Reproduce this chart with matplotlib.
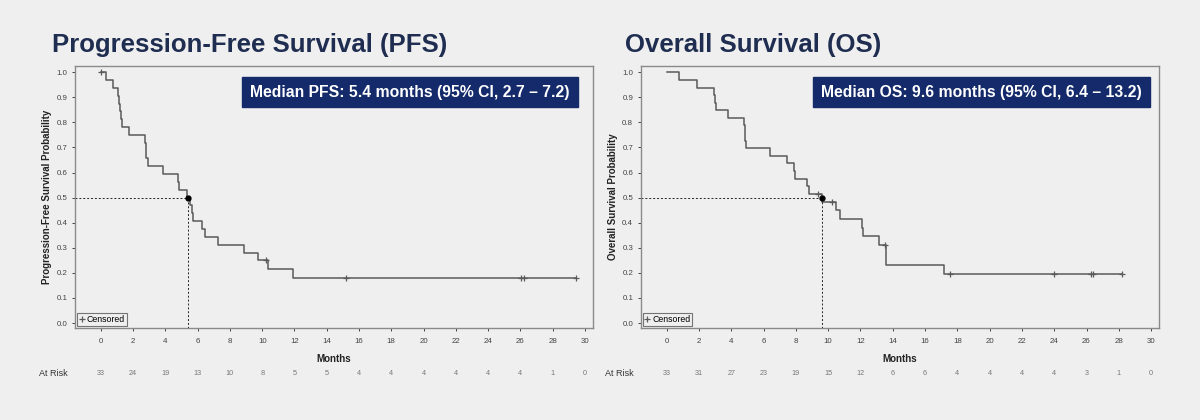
import numpy as np
import matplotlib.pyplot as plt

plt.rcParams['font.family'] = ['Liberation Sans', 'DejaVu Sans']

# PFS Kaplan-Meier steps (time in months, survival after the drop)
pfs_time = [0, 0.31, 0.77, 1.08, 1.15, 1.20, 1.27, 1.30, 1.76, 2.73, 2.77, 2.83, 2.90,
            3.83, 4.80, 4.87, 5.36, 5.52, 5.62, 5.73, 6.29, 6.43, 7.28, 8.89, 9.72,
            10.38, 11.89]
pfs_surv = [1.0, 0.969, 0.938, 0.906, 0.875, 0.844, 0.813, 0.781, 0.750, 0.719, 0.688,
            0.656, 0.625, 0.594, 0.563, 0.531, 0.500, 0.469, 0.438, 0.406, 0.375, 0.344,
            0.313, 0.281, 0.250, 0.214, 0.179]
pfs_censor = [0, 10.22, 15.2, 26.06, 26.2, 29.45]
pfs_end = 29.45
pfs_median = 5.4

# OS Kaplan-Meier steps
os_time = [0, 0.74, 1.85, 2.94, 3.00, 3.05, 3.83, 4.79, 4.83, 4.87, 4.90, 6.38, 7.47,
           7.88, 7.97, 8.72, 8.80, 9.63, 10.49, 10.74, 12.10, 12.18, 13.17, 13.58, 17.16]
os_surv = [1.0, 0.970, 0.939, 0.909, 0.879, 0.848, 0.818, 0.788, 0.758, 0.727, 0.697,
           0.667, 0.636, 0.606, 0.576, 0.545, 0.515, 0.483, 0.449, 0.415, 0.380, 0.346,
           0.311, 0.233, 0.194]
os_censor = [9.38, 10.23, 13.54, 17.53, 24.0, 26.3, 26.4, 28.2]
os_end = 28.2
os_median = 9.6

months = list(range(0, 31, 2))
pfs_risk = [33, 24, 19, 13, 10, 8, 5, 5, 4, 4, 4, 4, 4, 4, 1, 0]
os_risk = [33, 31, 27, 23, 19, 15, 12, 6, 6, 4, 4, 4, 4, 3, 1, 0]

bg = '#efefef'
navy = '#142a6a'
line_col = '#5a5a5a'


def km_panel(ax, t, s, cens, t_end, med, ylabel, box_text, box_x):
    tt = list(t) + [t_end]
    ss = list(s) + [s[-1]]
    ax.step(tt, ss, where='post', color=line_col, lw=1.1)
    idx = np.searchsorted(t, cens, side='right') - 1
    cy = np.array(s)[idx]
    ax.plot(cens, cy, ls='none', marker='+', ms=5, mew=0.9, color=line_col,
            label='Censored')
    ax.set_xlim(-1.6, 30.5)
    ax.set_ylim(-0.02, 1.025)
    # median guide lines
    ax.plot([-1.6, med], [0.5, 0.5], color='#222222', lw=0.7, ls=(0, (2, 2)))
    ax.plot([med, med], [0.5, -0.02], color='#222222', lw=0.7, ls=(0, (2, 2)))
    ax.plot([med], [0.5], 'o', color='black', ms=3.5)
    ax.set_facecolor(bg)
    for sp in ax.spines.values():
        sp.set_color('#8a8a8a')
        sp.set_linewidth(1.0)
    ax.set_xticks(months)
    ax.set_yticks(np.arange(0, 1.01, 0.1))
    ax.set_yticklabels(['%.1f' % v for v in np.arange(0, 1.01, 0.1)])
    ax.tick_params(axis='both', labelsize=5.7, colors='#444444', length=2.5,
                   width=0.7, direction='out', pad=3)
    ax.tick_params(axis='x', pad=5)
    ax.set_ylabel(ylabel, fontsize=7, fontweight='bold', color='#222222', labelpad=3)
    ax.set_xlabel('Months', fontsize=7, fontweight='bold', color='#222222', labelpad=6)
    leg = ax.legend(loc='lower left', fontsize=6.3, handlelength=0.6, handletextpad=0.3,
                    borderpad=0.2, borderaxespad=0.25, fancybox=False, frameon=True)
    leg.get_frame().set_edgecolor('#555555')
    leg.get_frame().set_facecolor(bg)
    leg.get_frame().set_linewidth(0.8)
    ax.text(box_x, 0.90, box_text, transform=ax.transAxes, ha='right', va='center',
            color='white', fontsize=11.3, fontweight='bold',
            bbox=dict(boxstyle='square,pad=0.5', facecolor=navy, edgecolor=navy))


fig = plt.figure(figsize=(12, 4.2), dpi=100, facecolor=bg)
ax1 = fig.add_axes([0.0625, 0.219, 0.4317, 0.624])
ax2 = fig.add_axes([0.534, 0.219, 0.432, 0.624])

km_panel(ax1, pfs_time, pfs_surv, pfs_censor, pfs_end, pfs_median,
         'Progression-Free Survival Probability',
         'Median PFS: 5.4 months (95% CI, 2.7 \u2013 7.2)', 0.955)
km_panel(ax2, os_time, os_surv, os_censor, os_end, os_median,
         'Overall Survival Probability',
         'Median OS: 9.6 months (95% CI, 6.4 \u2013 13.2)', 0.967)

fig.text(52 / 1200, 1 - 52 / 420, 'Progression-Free Survival (PFS)', fontsize=18.5,
         fontweight='bold', color='#1f2d50', va='baseline')
fig.text(625 / 1200, 1 - 52 / 420, 'Overall Survival (OS)', fontsize=18.5,
         fontweight='bold', color='#1f2d50', va='baseline')

# at risk rows
for ax, risk, lx in [(ax1, pfs_risk, 39 / 1200), (ax2, os_risk, 605 / 1200)]:
    trans = ax.get_xaxis_transform()
    for m, r in zip(months, risk):
        ax.text(m, -0.172, str(r), transform=trans, ha='center', va='center',
                fontsize=5.2, color='#777777', clip_on=False)
    fig.text(lx, 1 - 373 / 420, 'At Risk', fontsize=6.5, color='#333333', va='center')

fig.savefig('out.png', dpi=100, facecolor=bg)
